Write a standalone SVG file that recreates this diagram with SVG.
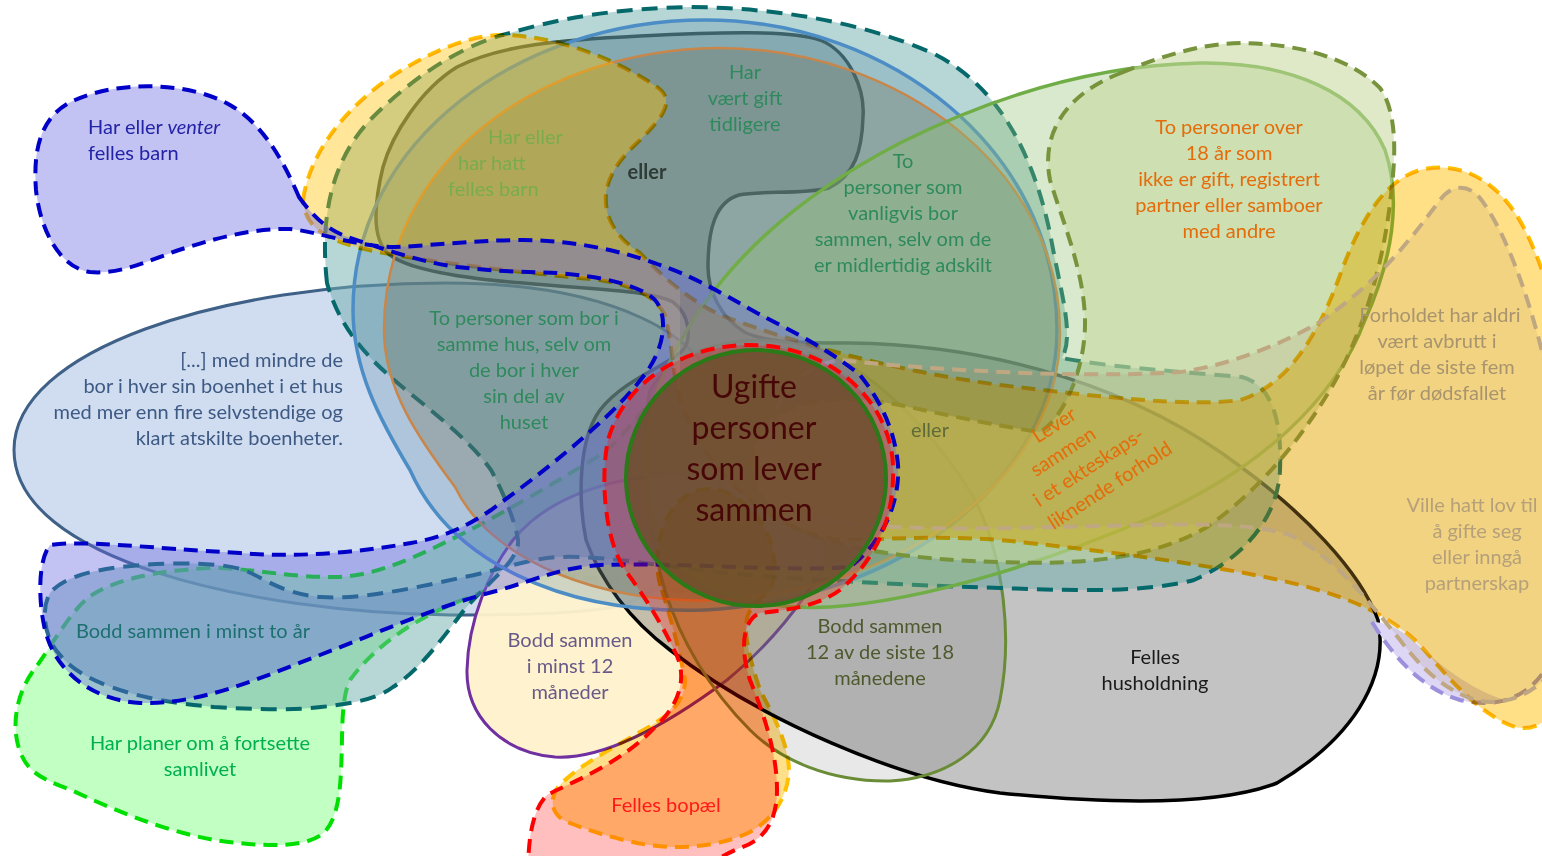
<svg xmlns="http://www.w3.org/2000/svg" width="1542" height="856" viewBox="0 0 1542 856">
<style>
text { font-family: Lato, "Open Sans", "Liberation Sans", sans-serif; font-size: 20px; }
.c { text-anchor: middle; }
.r { text-anchor: end; }
.d { stroke-width: 4; stroke-dasharray: 14 8; }
.mul { mix-blend-mode: multiply; }
.big { font-size: 32px; }
</style>
<defs>
<path id="pY" d="M 303,200 C 310,150 350,100 407,67 C 440,48 470,36 500,35 C 560,35 620,62 657,87 C 675,100 665,115 640,140 C 615,163 600,185 608,215 C 615,235 628,245 640,253 C 665,280 690,300 720,315 C 800,345 900,372 1000,385 C 1100,397 1190,407 1240,400 C 1290,385 1320,330 1340,275 C 1360,220 1385,180 1420,170 C 1460,160 1500,180 1525,230 C 1550,280 1560,330 1565,400 L 1565,690 C 1555,720 1535,732 1515,727 C 1480,715 1450,680 1420,645 C 1390,615 1350,598 1300,585 C 1230,567 1100,550 1000,540 C 930,535 880,540 840,540 C 760,530 700,460 680,400 C 672,370 672,340 665,315 C 655,295 630,285 600,280 C 520,272 420,262 360,248 C 330,240 305,230 303,200 Z"/>
<clipPath id="cl"><rect x="0" y="0" width="680" height="856"/></clipPath>
<clipPath id="cr"><rect x="680" y="0" width="900" height="856"/></clipPath>
</defs>
<rect width="1542" height="856" fill="#ffffff"/>

<g id="boenhet">
<path d="M 14,450 C 14,350 220,283 446,283 C 600,283 720,330 725,420 C 730,510 690,590 610,608 C 560,615 500,615 450,615 C 250,612 14,560 14,450 Z" fill="#d0dcef" stroke="#3f6087" stroke-width="3"/>
</g>

<g id="planer">
<path class="d" d="M 29,767 C 10,745 10,700 36,667 C 50,648 70,612 89,597 C 110,582 150,570 214,568 C 250,568 290,578 339,577 C 380,575 420,555 464,533 C 500,515 560,480 600,455 C 630,435 650,390 700,360 C 740,340 800,340 840,370 C 880,400 890,460 880,510 C 860,570 780,600 694,593 C 640,588 600,575 560,577 C 520,580 490,588 470,597 C 420,615 375,645 350,680 C 340,700 343,740 341,770 C 340,800 335,825 321,835 C 300,850 250,845 214,840 C 160,830 110,808 71,790 C 50,782 38,777 29,767 Z" fill="#66ff66" fill-opacity="0.4" stroke="#00e000"/>
</g>

<g id="maaneder12">
<path d="M 513,540 C 490,570 468,620 467,670 C 466,715 500,752 555,757 C 610,760 680,715 727,680 C 770,645 805,600 823,567 C 840,535 800,480 700,475 C 610,472 545,500 513,540 Z" fill="#fff2cc" fill-opacity="0.95" stroke="#7030a0" stroke-width="3"/>
</g>

<g id="husholdning">
<path d="M 586,540 C 578,500 578,440 600,410 C 625,378 670,365 683,350 C 692,338 690,315 673,302 C 650,290 600,290 523,283 C 460,278 410,270 390,255 C 370,240 375,200 383,167 C 392,135 420,90 457,67 C 500,45 560,40 640,36 C 720,32 790,30 820,40 C 850,52 865,90 863,117 C 862,150 855,175 829,188 C 800,195 760,190 739,195 C 715,202 708,230 708,267 C 708,290 720,318 746,333 C 770,343 800,343 850,343 C 1000,345 1140,390 1241,467 C 1300,510 1360,570 1378,620 C 1390,680 1350,740 1277,783 C 1220,805 1120,805 1000,793 C 900,780 760,720 670,650 C 630,620 600,580 586,540 Z" fill="#808080" fill-opacity="0.47" stroke="#000000" stroke-width="3.5"/>
</g>

<g id="siste18">
<path d="M 650,390 C 680,340 760,330 820,350 C 880,375 940,440 975,500 C 1005,560 1012,640 1000,700 C 990,750 945,778 890,781 C 830,782 780,760 750,730 C 710,690 680,640 665,590 C 650,540 640,440 650,390 Z" fill="#000000" fill-opacity="0.09" stroke="#6b8c36" stroke-width="3"/>
</g>

<g id="vanligvis">
<path d="M 327,283 C 320,220 330,160 373,117 C 410,80 460,45 510,33 C 560,18 620,8 690,7 C 780,8 860,22 930,52 C 990,80 1030,140 1050,233 C 1060,290 1075,335 1062,358 C 1100,366 1180,372 1242,377 C 1272,385 1282,420 1280,470 C 1278,520 1240,560 1194,580 C 1140,594 1060,590 1000,588 C 900,585 820,580 760,576 C 680,570 610,555 560,557 C 530,558 500,570 464,577 C 420,587 360,600 321,597 C 280,594 260,575 243,570 C 225,563 180,562 143,565 C 100,568 65,575 50,593 C 40,610 45,640 60,655 C 80,680 130,700 214,707 C 260,710 300,710 321,707 C 360,703 380,697 393,687 C 420,670 445,635 464,610 C 490,580 520,560 518,540 C 516,525 505,495 491,470 C 470,440 430,410 400,385 C 370,360 340,330 327,283 Z" fill="#6fadad" fill-opacity="0.5" stroke="#05686a" stroke-width="4" stroke-dasharray="16 9"/>
</g>

<g id="gift-blaa">
<path d="M 353,310 C 353,140 520,20 705,20 C 890,20 1057,150 1057,330 C 1057,480 900,600 705,610 C 560,615 450,560 410,470 C 380,420 353,370 353,310 Z" fill="#4a7f9f" fill-opacity="0.25" stroke="#4c8dc6" stroke-width="3.5"/>
</g>

<g id="gift-oransje">
<path d="M 384,330 C 384,160 540,50 718,48 C 900,48 1060,170 1060,333 C 1060,480 900,590 718,600 C 600,605 490,560 455,487 C 420,440 384,390 384,330 Z" fill="#6e6a50" fill-opacity="0.3" stroke="#c8864a" stroke-width="2.5"/>
</g>

<g id="gronn-ellipse">
<path d="M 672,357 C 720,262 800,195 900,143 C 1000,93 1100,65 1200,63 C 1290,62 1360,92 1385,150 C 1402,200 1392,260 1365,320 C 1335,400 1260,470 1150,518 C 1050,560 930,600 830,607 C 730,612 660,575 648,500 C 640,440 652,395 672,357 Z" fill="#92c070" fill-opacity="0.35" stroke="#70ad47" stroke-width="3.5"/>
</g>

<g id="over18">
<path class="d" d="M 1121,73 C 1170,52 1210,43 1242,43 C 1300,44 1350,58 1380,88 C 1396,110 1396,150 1392,185 C 1385,260 1365,330 1330,390 C 1300,440 1260,490 1207,527 C 1150,560 1080,565 1000,562 C 920,560 840,550 800,530 C 760,510 740,470 760,430 C 790,395 850,395 900,405 C 960,418 1010,428 1040,432 C 1062,420 1086,370 1085,320 C 1084,270 1062,220 1050,180 C 1040,130 1070,92 1121,73 Z" fill="#c4d79b" fill-opacity="0.55" stroke="#77933c" stroke-width="3.5"/>
</g>

<g id="lavendel">
<path d="M 1372,622 C 1395,660 1425,690 1460,700 C 1480,705 1495,705 1508,701 C 1470,690 1440,665 1410,638 C 1398,628 1385,622 1372,622 Z" fill="#ddd6f5"/>
<path class="d" d="M 1372,622 C 1395,660 1425,690 1460,700 C 1495,708 1525,700 1545,670" fill="none" stroke="#9c8fdb" stroke-width="3.5"/>
</g>

<g id="gul">
<use href="#pY" fill="#ffc000" fill-opacity="0.4" clip-path="url(#cl)"/>
<use href="#pY" fill="#ffc000" fill-opacity="0.2" clip-path="url(#cr)"/>
<use href="#pY" class="mul" fill="#ffeca8" clip-path="url(#cr)"/>
<use href="#pY" class="d mul" fill="none" stroke="#ffc000"/>
</g>

<g id="avbrutt">
<path class="d" d="M 1565,480 C 1555,380 1520,250 1480,198 C 1468,184 1452,184 1440,200 C 1410,240 1380,280 1320,322 C 1280,345 1230,365 1180,372 C 1100,378 950,372 840,360 C 770,370 745,460 790,510 C 850,535 1000,528 1100,526 C 1180,524 1250,522 1290,535 C 1330,555 1360,590 1400,640 C 1430,680 1460,700 1490,702 C 1520,702 1545,685 1560,660 Z" fill="#a08a60" fill-opacity="0.14" stroke="#bfa782" stroke-width="3.5"/>
</g>

<g id="venter">
<path class="d" d="M 299,197 C 312,215 325,228 345,236 C 380,248 420,262 457,267 C 500,272 530,272 557,273 C 600,276 640,285 655,300 C 668,315 665,345 648,370 C 620,410 560,460 491,510 C 465,528 440,538 411,543 C 360,552 300,558 240,553 C 150,548 80,540 50,545 C 38,560 38,600 45,630 C 55,670 90,700 140,703 C 200,705 260,678 320,655 C 380,632 440,605 500,590 C 540,578 560,568 600,565 C 680,562 780,572 850,567 C 885,540 900,500 898,465 C 895,430 880,400 860,375 C 830,350 790,330 757,313 C 720,292 690,275 660,265 C 620,250 570,240 523,240 C 470,240 420,247 390,247 C 350,245 320,232 290,229 C 250,228 210,240 179,250 C 150,260 120,275 90,272 C 60,268 40,230 36,190 C 33,150 40,115 75,100 C 120,80 190,82 230,105 C 265,125 285,165 299,197 Z" fill="#6666e0" fill-opacity="0.4" stroke="#0000c8"/>
</g>

<g id="bopael">
<path d="M 528,875 C 528,840 532,810 547,795 C 565,785 620,765 655,727 C 685,700 686,670 674,650 C 660,620 640,590 625,570 C 605,540 600,480 608,440 C 625,380 685,345 750,345 C 830,345 890,400 893,465 C 895,520 875,560 840,590 C 820,605 790,610 760,613 C 742,620 740,650 750,680 C 762,710 777,750 777,790 C 777,820 765,840 740,848 C 720,856 700,870 690,875 Z" fill="#ff0000" fill-opacity="0.25"/>
<path class="d mul" d="M 662,590 C 668,610 680,650 685,680 C 685,705 665,718 640,732 C 610,750 570,770 556,790 C 548,805 555,818 570,823 C 600,835 640,846 670,847 C 700,848 730,842 750,832 C 775,818 788,795 789,770 C 788,740 770,710 760,690 C 750,660 742,630 748,615 C 752,605 760,600 770,590 C 790,540 740,480 700,490 C 660,500 650,560 662,590 Z" fill="#ffe08a" stroke="#ffc000"/>
<path class="d" d="M 528,875 C 528,840 532,810 547,795 C 565,785 620,765 655,727 C 685,700 686,670 674,650 C 660,620 640,590 625,570 C 605,540 600,480 608,440 C 625,380 685,345 750,345 C 830,345 890,400 893,465 C 895,520 875,560 840,590 C 820,605 790,610 760,613 C 742,620 740,650 750,680 C 762,710 777,750 777,790 C 777,820 765,840 740,848 C 720,856 700,870 690,875" fill="none" stroke="#ff0000"/>
</g>

<g id="ugifte">
<ellipse cx="756" cy="478" rx="130" ry="128" fill="#6b4f2c" fill-opacity="0.85" stroke="#2a7a18" stroke-width="4"/>
</g>

<g id="tekst">
<text x="88" y="134" fill="#2323a8">Har eller <tspan font-style="italic">venter</tspan></text>
<text x="88" y="160" fill="#2323a8">felles barn</text>

<text x="488" y="144" fill="#78ad4e">Har eller</text>
<text x="458" y="170" fill="#78ad4e">har hatt</text>
<text x="448" y="196" fill="#78ad4e">felles barn</text>

<text x="647" y="179" class="c" fill="#2f3b35" font-weight="bold">eller</text>

<g fill="#2e8a5c">
<text x="745" y="79" class="c">Har</text>
<text x="745" y="105" class="c">vært gift</text>
<text x="745" y="131" class="c">tidligere</text>
<text x="903" y="168" class="c">To</text>
<text x="903" y="194" class="c">personer som</text>
<text x="903" y="220" class="c">vanligvis bor</text>
<text x="903" y="246" class="c">sammen, selv om de</text>
<text x="903" y="272" class="c">er midlertidig adskilt</text>
<text x="524" y="325" class="c">To personer som bor i</text>
<text x="524" y="351" class="c">samme hus, selv om</text>
<text x="524" y="377" class="c">de bor i hver</text>
<text x="524" y="403" class="c">sin del av</text>
<text x="524" y="429" class="c">huset</text>
</g>

<g fill="#e46c0a">
<text x="1229" y="134" class="c">To personer over</text>
<text x="1229" y="160" class="c">18 år som</text>
<text x="1229" y="186" class="c">ikke er gift, registrert</text>
<text x="1229" y="212" class="c">partner eller samboer</text>
<text x="1229" y="238" class="c">med andre</text>
</g>

<g fill="#a8946e">
<text x="1440" y="322" class="c">Forholdet har aldri</text>
<text x="1437" y="348" class="c">vært avbrutt i</text>
<text x="1437" y="374" class="c">løpet de siste fem</text>
<text x="1437" y="400" class="c">år før dødsfallet</text>
</g>

<g fill="#b5a07a">
<text x="1472" y="512" class="c">Ville hatt lov til</text>
<text x="1477" y="538" class="c">å gifte seg</text>
<text x="1477" y="564" class="c">eller inngå</text>
<text x="1477" y="590" class="c">partnerskap</text>
</g>

<g fill="#3d5a84">
<text x="343" y="367" class="r">[...] med mindre de</text>
<text x="343" y="393" class="r">bor i hver sin boenhet i et hus</text>
<text x="343" y="419" class="r">med mer enn fire selvstendige og</text>
<text x="343" y="445" class="r">klart atskilte boenheter.</text>
</g>

<g fill="#470707">
<text x="754" y="398" class="c big">Ugifte</text>
<text x="754" y="439" class="c big">personer</text>
<text x="754" y="480" class="c big">som lever</text>
<text x="754" y="521" class="c big">sammen</text>
</g>

<text x="930" y="437" class="c" fill="#5f6b36">eller</text>

<g transform="translate(1054,425) rotate(-33)" fill="#e46c0a">
<text x="0" y="7" class="c">Lever</text>
<text x="-7" y="34" class="c">sammen</text>
<text x="6" y="61" class="c">i et ekteskaps-</text>
<text x="14" y="88" class="c">liknende forhold</text>
</g>

<text x="193" y="638" class="c" fill="#1d7070">Bodd sammen i minst to år</text>

<text x="200" y="750" class="c" fill="#00b050">Har planer om å fortsette</text>
<text x="200" y="776" class="c" fill="#00b050">samlivet</text>

<g fill="#675a88">
<text x="570" y="647" class="c">Bodd sammen</text>
<text x="570" y="673" class="c">i minst 12</text>
<text x="570" y="699" class="c">måneder</text>
</g>

<g fill="#4e5a2e">
<text x="880" y="633" class="c">Bodd sammen</text>
<text x="880" y="659" class="c">12 av de siste 18</text>
<text x="880" y="685" class="c">månedene</text>
</g>

<text x="1155" y="664" class="c" fill="#1a1a1a">Felles</text>
<text x="1155" y="690" class="c" fill="#1a1a1a">husholdning</text>

<text x="666" y="812" class="c" fill="#ff1a1a">Felles bopæl</text>
</g>
</svg>
